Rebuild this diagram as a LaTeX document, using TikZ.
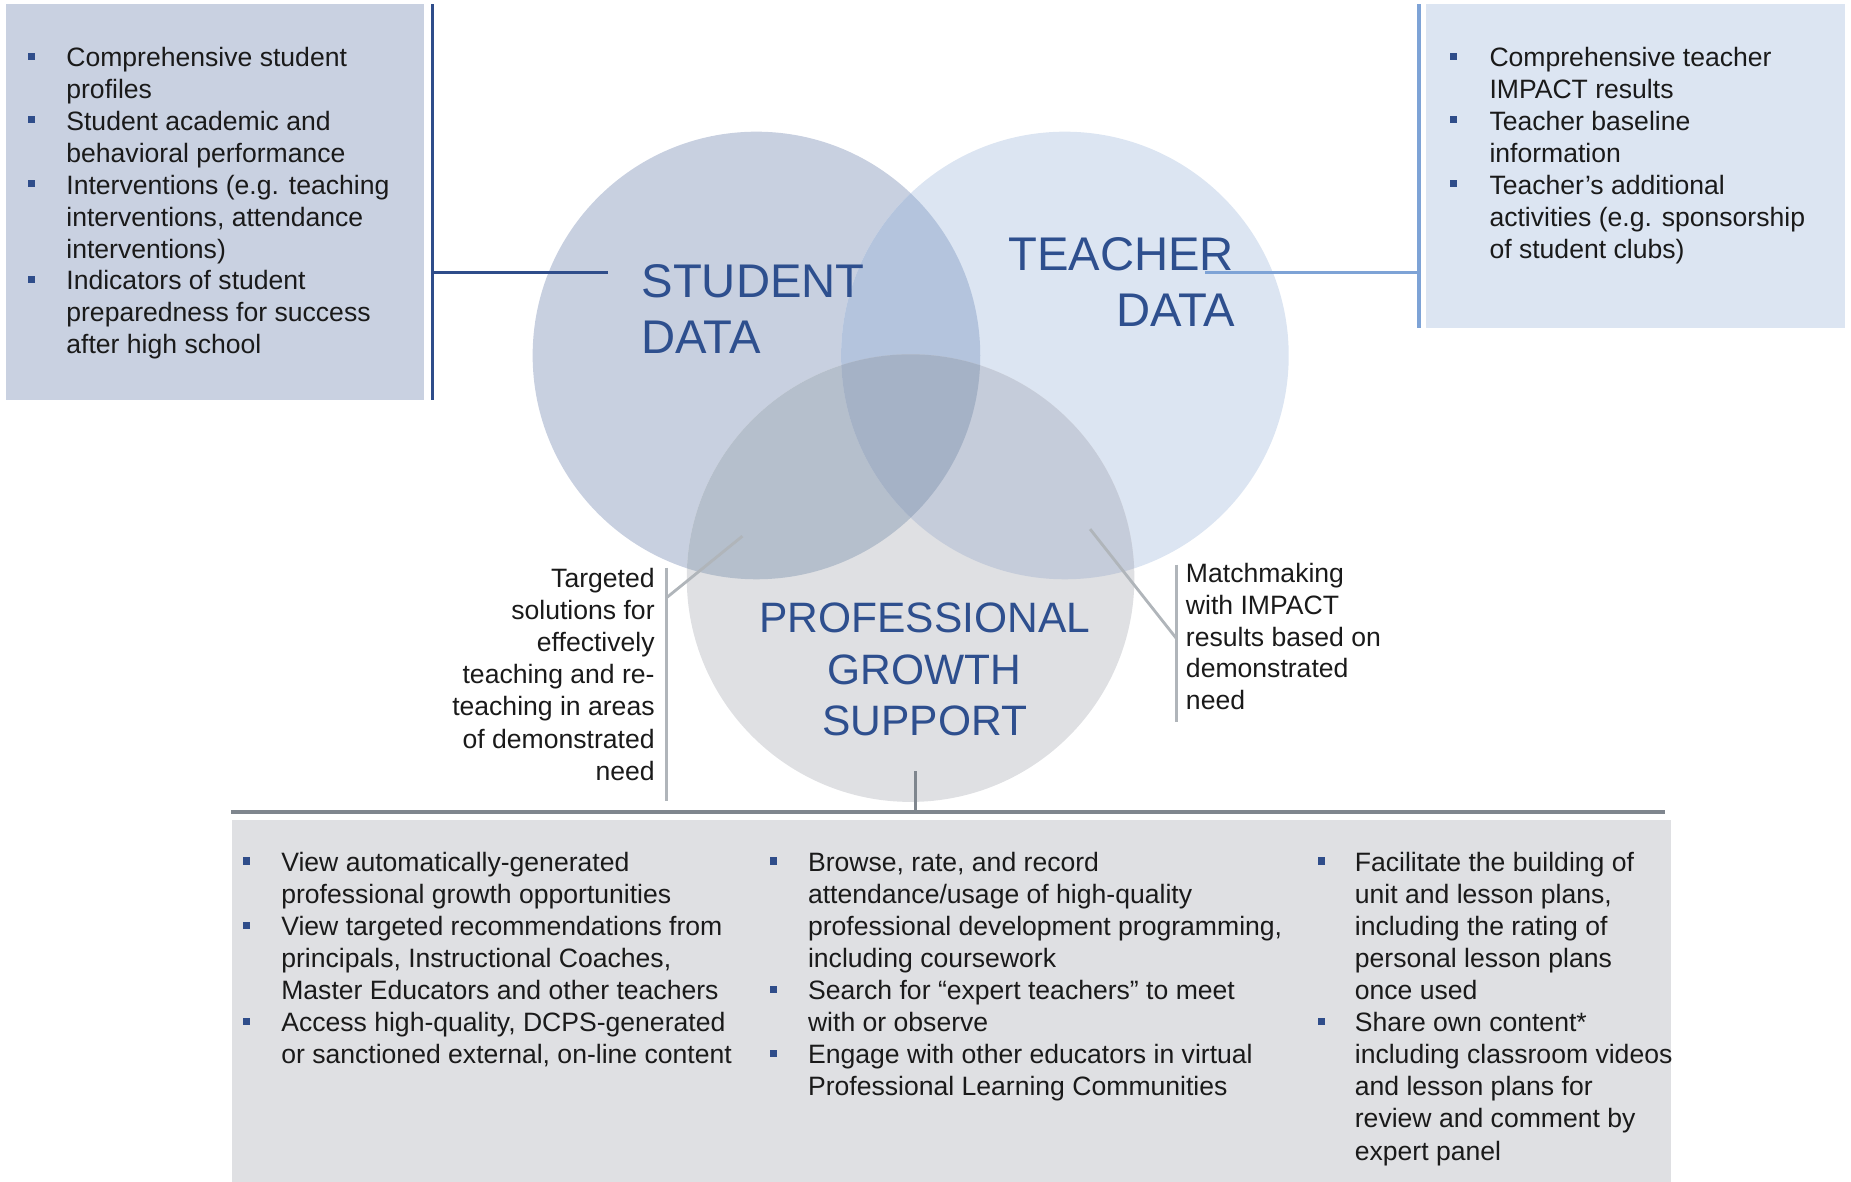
\documentclass[tikz,border=0pt]{standalone}
\usepackage{fontspec}
\setmainfont{Liberation Sans}
\definecolor{cS}{HTML}{C8D0E0}
\definecolor{cT}{HTML}{DCE5F2}
\definecolor{cP}{HTML}{DFE0E3}
\definecolor{cST}{HTML}{B4C4DD}
\definecolor{cSP}{HTML}{B5BFCC}
\definecolor{cTP}{HTML}{C5CCDA}
\definecolor{cSTP}{HTML}{A5B2C6}
\definecolor{leftc}{HTML}{C9D1E1}
\definecolor{rightc}{HTML}{DCE5F2}
\definecolor{botc}{HTML}{DFE0E3}
\definecolor{dblue}{HTML}{2F4D8A}
\definecolor{lblue}{HTML}{7EA3D6}
\definecolor{titlec}{HTML}{2E4F8E}
\definecolor{greyln}{HTML}{B0B5BA}
\definecolor{darkgrey}{HTML}{7F868E}
\definecolor{txtc}{HTML}{1A1A1A}
\begin{document}
\begin{tikzpicture}[x=1pt,y=-1pt,
  txt/.style={inner sep=0pt, font=\fontsize{22.5}{27}\selectfont, text=txtc},
  big/.style={inner sep=0pt, font=\fontsize{40}{48}\selectfont, text=titlec},
  mid/.style={inner sep=0pt, font=\fontsize{36}{43}\selectfont, text=titlec},
  bsq/.style={rectangle, fill=dblue, minimum size=6pt, inner sep=0pt},
  panel/.style={rectangle, draw=none, inner sep=0pt, anchor=north west},
  venn/.style={circle, draw=none, inner sep=0pt, minimum size=379pt},
  dbline/.style={draw=dblue, line width=2.7pt},
  lbline/.style={draw=lblue, line width=2.7pt},
  gline/.style={draw=greyln, line width=2.4pt},
  thickline/.style={draw=darkgrey, line width=2.8pt}]
\useasboundingbox (0,0) rectangle (1567.3,1000);

% panels
\node[panel, fill=leftc, minimum width=353.6pt, minimum height=335.1pt] (lbox) at (5,3.4) {};
\node[panel, fill=rightc, minimum width=355pt, minimum height=275pt] (rbox) at (1207,2.8) {};
\node[panel, fill=botc, minimum width=1219pt, minimum height=306pt] (bbox) at (196,694.5) {};

% venn circles
\node[venn] (S) at (640.5,301) {};
\node[venn] (T) at (901.7,301) {};
\node[venn] (P) at (771,489.5) {};
\fill[cS] (S.center) circle (189.5);
\fill[cT] (T.center) circle (189.5);
\fill[cP] (P.center) circle (189.5);
\begin{scope}
  \clip (S.center) circle (189.5);
  \fill[cST] (T.center) circle (189.5);
  \fill[cSP] (P.center) circle (189.5);
\end{scope}
\begin{scope}
  \clip (T.center) circle (189.5);
  \fill[cTP] (P.center) circle (189.5);
\end{scope}
\begin{scope}
  \clip (S.center) circle (189.5);
  \clip (T.center) circle (189.5);
  \fill[cSTP] (P.center) circle (189.5);
\end{scope}

% circle titles
\node[big, anchor=base west] (st1) at (543,251.5) {STUDENT};
\node[big, anchor=base west] (st2) at (543,299.7) {DATA};
\node[big, anchor=base east] (tt1) at (1045,229) {TEACHER};
\node[big, anchor=base east] (tt2) at (1046,276.8) {DATA};
\node[mid, anchor=base] (pt1) at (783,535.6) {PROFESSIONAL};
\node[mid, anchor=base] (pt2) at (783,579.5) {GROWTH};
\node[mid, anchor=base] (pt3) at (783,622.7) {SUPPORT};

% left panel text
\foreach \t [count=\i] in {{Comprehensive student},{profiles},{Student academic and},{behavioral performance},{Interventions (e.g. teaching},{interventions, attendance},{interventions)},{Indicators of student},{preparedness for success},{after high school}}
  \node[txt, anchor=base west] (ls\i) at (56,{56.5+27*(\i-1)}) {\t};
\foreach \i in {1,3,5,8}
  \node[bsq] (lb\i) at (27,{47.5+27*(\i-1)}) {};

% right panel text
\foreach \t [count=\i] in {{Comprehensive teacher},{IMPACT results},{Teacher baseline},{information},{Teacher’s additional},{activities (e.g. sponsorship},{of student clubs)}}
  \node[txt, anchor=base west] (rs\i) at (1261,{56.5+27*(\i-1)}) {\t};
\foreach \i in {1,3,5}
  \node[bsq] (rb\i) at (1231,{47.5+27*(\i-1)}) {};

% annotations
\foreach \t [count=\i] in {{Targeted},{solutions for},{effectively},{teaching and re-},{teaching in areas},{of demonstrated},{need}}
  \node[txt, anchor=base east] (la\i) at (554.5,{497.6+27.15*(\i-1)}) {\t};
\foreach \t [count=\i] in {{Matchmaking},{with IMPACT},{results based on},{demonstrated},{need}}
  \node[txt, anchor=base west] (ra\i) at (1004,{493.5+26.8*(\i-1)}) {\t};

% bottom columns
\foreach \t [count=\i] in {{View automatically-generated},{professional growth opportunities},{View targeted recommendations from},{principals, Instructional Coaches,},{Master Educators and other teachers},{Access high-quality, DCPS-generated},{or sanctioned external, on-line content}}
  \node[txt, anchor=base west] (ba\i) at (238,{737.5+27.2*(\i-1)}) {\t};
\foreach \i in {1,3,6}
  \node[bsq] (bab\i) at (209,{729+27.2*(\i-1)}) {};
\foreach \t [count=\i] in {{Browse, rate, and record},{attendance/usage of high-quality},{professional development programming,},{including coursework},{Search for “expert teachers” to meet},{with or observe},{Engage with other educators in virtual},{Professional Learning Communities}}
  \node[txt, anchor=base west] (bb\i) at (684,{737.5+27.2*(\i-1)}) {\t};
\foreach \i in {1,5,7}
  \node[bsq] (bbb\i) at (655,{729+27.2*(\i-1)}) {};
\foreach \t [count=\i] in {{Facilitate the building of},{unit and lesson plans,},{including the rating of},{personal lesson plans},{once used},{Share own content*},{including classroom videos},{and lesson plans for},{review and comment by},{expert panel}}
  \node[txt, anchor=base west] (bc\i) at (1147,{737.5+27.2*(\i-1)}) {\t};
\foreach \i in {1,6}
  \node[bsq] (bcb\i) at (1119,{729+27.2*(\i-1)}) {};

% connectors
\coordinate (lvt) at (366,3.4);
\coordinate (lvb) at (366,338.5);
\coordinate (lvm) at (366,231);
\coordinate (lhe) at (514.5,231);
\draw[dbline] (lvt) -- (lvb);
\draw[dbline] (lvm) -- (lhe);

\coordinate (rvt) at (1201.5,3.4);
\coordinate (rvb) at (1201.5,278);
\coordinate (rvm) at (1201.5,231);
\coordinate (rhe) at (1020,231);
\draw[lbline] (rvt) -- (rvb);
\draw[lbline] (rvm) -- (rhe);

\coordinate (avt) at (564.5,480.6);
\coordinate (avb) at (564.5,678.5);
\coordinate (avm) at (564.5,506);
\coordinate (adi) at (628.6,454);
\draw[gline] (avt) -- (avb);
\draw[gline] (avm) -- (adi);

\coordinate (bvt) at (996,478);
\coordinate (bvb) at (996,611);
\coordinate (bvm) at (996,540.5);
\coordinate (bdi) at (923,448);
\draw[gline] (bvt) -- (bvb);
\draw[gline] (bvm) -- (bdi);

\coordinate (pvt) at (775.5,653);
\coordinate (pvb) at (775.5,687.6);
\draw[draw=darkgrey, line width=2.4pt] (pvt) -- (pvb);
\coordinate (hl) at (195.6,687.6);
\coordinate (hr) at (1410,687.6);
\draw[thickline] (hl) -- (hr);
\end{tikzpicture}
\end{document}
